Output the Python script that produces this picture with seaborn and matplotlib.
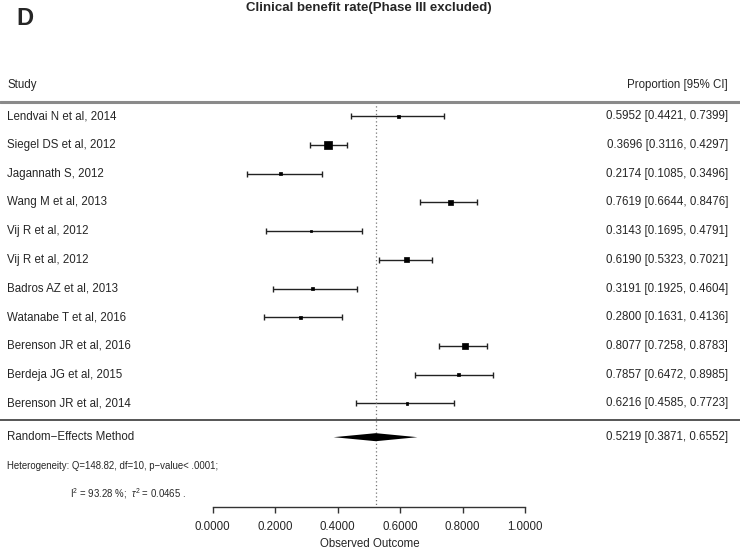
import numpy as np
import pandas as pd
import seaborn as sns
import matplotlib.pyplot as plt
import matplotlib.transforms as mtransforms

# 数据
studies = ["Lendvai N et al, 2014", "Siegel DS et al, 2012", "Jagannath S, 2012",
           "Wang M et al, 2013", "Vij R et al, 2012", "Vij R et al, 2012",
           "Badros AZ et al, 2013", "Watanabe T et al, 2016", "Berenson JR et al, 2016",
           "Berdeja JG et al, 2015", "Berenson JR et al, 2014"]
est = [0.5952, 0.3696, 0.2174, 0.7619, 0.3143, 0.6190, 0.3191, 0.2800, 0.8077, 0.7857, 0.6216]
lo = [0.4421, 0.3116, 0.1085, 0.6644, 0.1695, 0.5323, 0.1925, 0.1631, 0.7258, 0.6472, 0.4585]
hi = [0.7399, 0.4297, 0.3496, 0.8476, 0.4791, 0.7021, 0.4604, 0.4136, 0.8783, 0.8985, 0.7723]
re_est, re_lo, re_hi = 0.5219, 0.3871, 0.6552
het_text = "Heterogeneity: Q=148.82, df=10, p\u2212value< .0001;"
i2_text = r"I$^2$ = 93.28 %;  $\tau^2$ = 0.0465 ."
xticks = [0.0, 0.2, 0.4, 0.6, 0.8, 1.0]

sns.set_theme(style="white")
plt.rcParams['font.family'] = ['Liberation Sans', 'DejaVu Sans']
plt.rcParams['mathtext.fontset'] = 'custom'
plt.rcParams['mathtext.rm'] = 'Liberation Sans'
plt.rcParams['mathtext.it'] = 'Liberation Sans:italic'

df = pd.DataFrame({"study": studies, "est": est, "lo": lo, "hi": hi})
df["row"] = np.arange(len(df))
# 方块大小 (metafor 规则: 1/CI宽度 线性缩放到 0.5~1.5)
wi = 1 / (df["hi"] - df["lo"])
ps = (wi - wi.min()) / (wi.max() - wi.min()) + 0.5
side_pt = ps * 3.6
df["area"] = side_pt ** 2

fig = plt.figure(figsize=(7.4, 5.54), dpi=100)
ax = fig.add_axes([0, 0, 1, 1])
ax.set_xlim(-0.681, 1.688)
ax.set_ylim(15.25, -4.052)

ax.errorbar(df["est"], df["row"], xerr=[df["est"] - df["lo"], df["hi"] - df["est"]],
            fmt='none', ecolor='#222222', elinewidth=1.0, capsize=2.2, capthick=1.0, zorder=2)
sns.scatterplot(data=df, x="est", y="row", size="area",
                sizes=(df["area"].min(), df["area"].max()),
                marker='s', color='black', edgecolor='black', linewidth=0.5,
                legend=False, ax=ax, zorder=3)

re_y = 11.18
axis_y = 13.62
ax.fill([re_lo, re_est, re_hi, re_est], [re_y, re_y - 0.14, re_y, re_y + 0.14],
        color='black', lw=0, zorder=3)
ax.vlines(re_est, -0.5, axis_y - 0.05, colors='#777777', linestyles=(0, (1, 2)), lw=0.9)

ax.axhline(-0.5, color='#8a8a8a', lw=2.2)
ax.axhline(10.58, color='#555555', lw=1.4)

trans = mtransforms.blended_transform_factory(ax.transAxes, ax.transData)
fs = 8.3
ax.text(0.0095, -1.09, "Study", transform=trans, ha='left', va='center', fontsize=fs)
ax.text(0.984, -1.09, "Proportion [95% CI]", transform=trans, ha='right', va='center', fontsize=fs)
for r, s, e, l, h in zip(df["row"], studies, est, lo, hi):
    ax.text(0.0095, r, s, transform=trans, ha='left', va='center', fontsize=fs)
    ax.text(0.984, r, f"{e:.4f} [{l:.4f}, {h:.4f}]", transform=trans, ha='right', va='center', fontsize=fs)
ax.text(0.0095, re_y, "Random\u2212Effects Method", transform=trans, ha='left', va='center', fontsize=fs)
ax.text(0.984, re_y, f"{re_est:.4f} [{re_lo:.4f}, {re_hi:.4f}]", transform=trans,
        ha='right', va='center', fontsize=fs)
ax.text(0.0095, 12.17, het_text, transform=trans, ha='left', va='center', fontsize=6.9)
ax.text(0.0945, 13.14, i2_text, transform=trans, ha='left', va='center', fontsize=6.9)

# x 轴
for s in ["top", "left", "right"]:
    ax.spines[s].set_visible(False)
ax.spines["bottom"].set_position(('data', axis_y))
ax.spines["bottom"].set_bounds(0, 1)
ax.spines["bottom"].set_color('#333333')
ax.spines["bottom"].set_linewidth(1.0)
ax.set_xticks(xticks)
ax.set_xticklabels([f"{t:.4f}" for t in xticks])
ax.tick_params(axis='x', bottom=True, direction='out', length=4.3, width=1.0,
               color='#333333', pad=5.5, labelsize=fs)
ax.set_yticks([])
ax.set_xlabel("Observed Outcome", fontsize=fs, labelpad=4)
ax.set_ylabel("")

fig.text(0.4985, 0.9856, "Clinical benefit rate(Phase III excluded)", ha='center', va='center',
         fontsize=9.5, fontweight='bold')
fig.text(0.0216, 0.9666, "D", ha='left', va='center', fontsize=17, fontweight='bold')

fig.savefig("out.png", dpi=100)
